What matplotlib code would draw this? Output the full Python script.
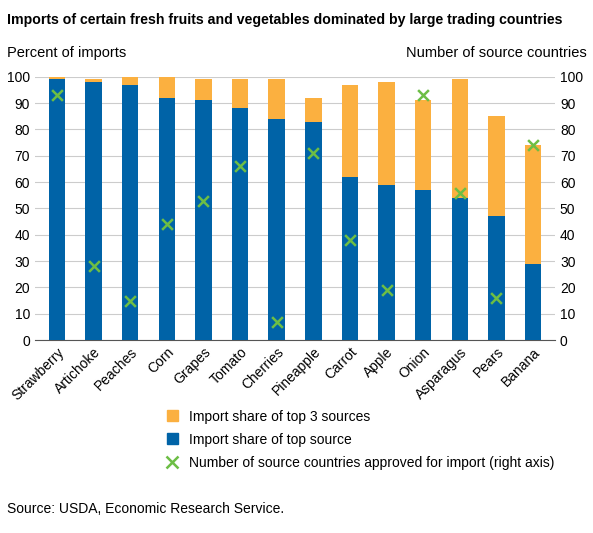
import matplotlib
matplotlib.use('Agg')
import matplotlib.pyplot as plt
from matplotlib.lines import Line2D
from matplotlib.patches import Patch

# data
crops = ["Strawberry", "Artichoke", "Peaches", "Corn", "Grapes", "Tomato", "Cherries",
         "Pineapple", "Carrot", "Apple", "Onion", "Asparagus", "Pears", "Banana"]
top_source = [99, 98, 97, 92, 91, 88, 84, 83, 62, 59, 57, 54, 47, 29]
top3 = [100, 99, 100, 100, 99, 99, 99, 92, 97, 98, 91, 99, 85, 74]
n_countries = [93, 28, 15, 44, 53, 66, 7, 71, 38, 19, 93, 56, 16, 74]

orange = '#FBB040'
blue = '#0063A7'
green = '#6DBE45'

plt.rcParams['font.family'] = 'Liberation Sans'
fig = plt.figure(figsize=(5.93, 5.33), dpi=100)
ax = fig.add_axes([0.059, 0.362, 0.877, 0.494])

x = list(range(len(crops)))
rest = [t - s for t, s in zip(top3, top_source)]
ax.bar(x, top_source, width=0.45, color=blue, zorder=3)
ax.bar(x, rest, bottom=top_source, width=0.45, color=orange, zorder=3)

ax.set_ylim(0, 100)
ax.set_xlim(-0.6, len(crops) - 0.4)
ax.set_yticks(range(0, 101, 10))
ax.grid(axis='y', color='#cccccc', linewidth=0.8, zorder=0)
ax.set_xticks(x)
ax.set_xticklabels(crops, rotation=45, ha='right', rotation_mode='anchor', fontsize=10)
ax.tick_params(axis='y', labelsize=10, length=0)
ax.tick_params(axis='x', length=0)
for s in ['top', 'right', 'left']:
    ax.spines[s].set_visible(False)
ax.spines['bottom'].set_color('#555555')

ax2 = ax.twinx()
ax2.scatter(x, n_countries, marker='x', s=60, color=green, linewidths=1.8, zorder=4)
ax2.set_ylim(0, 100)
ax2.set_yticks(range(0, 101, 10))
ax2.tick_params(axis='y', labelsize=10, length=0)
for s in ['top', 'right', 'left', 'bottom']:
    ax2.spines[s].set_visible(False)

fig.text(0.012, 0.975, "Imports of certain fresh fruits and vegetables dominated by large trading countries",
         fontsize=10.2, fontweight='bold', va='top')
fig.text(0.012, 0.9, "Percent of imports", fontsize=10.5, va='center')
fig.text(0.99, 0.9, "Number of source countries", fontsize=10.5, va='center', ha='right')

handles = [Patch(color=orange), Patch(color=blue),
           Line2D([], [], marker='x', linestyle='none', color=green, markersize=9, markeredgewidth=1.8)]
labels = ["Import share of top 3 sources", "Import share of top source",
          "Number of source countries approved for import (right axis)"]
fig.legend(handles, labels, loc='upper left', bbox_to_anchor=(0.26, 0.255), frameon=False,
           fontsize=10, handlelength=0.8, handleheight=0.8, labelspacing=0.65)

fig.text(0.012, 0.045, "Source: USDA, Economic Research Service.", fontsize=10, va='center')

fig.savefig('out.png', dpi=100)
